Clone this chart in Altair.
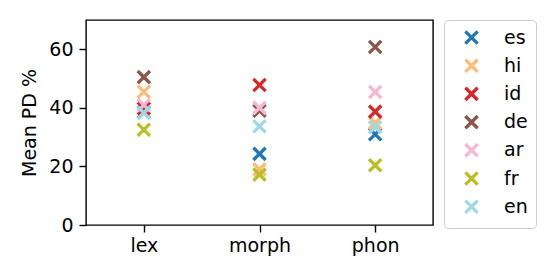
import altair as alt
import pandas as pd

languages = ["es", "hi", "id", "de", "ar", "fr", "en"]
colors = ["#1f77b4", "#ffbb78", "#d62728", "#8c564b", "#f7b6d2", "#bcbd22", "#9edae5"]
categories = ["lex", "morph", "phon"]
lex = [38.5, 45.5, 39.8, 50.5, 41.0, 32.5, 38.3]
morph = [24.3, 19.0, 47.8, 39.0, 40.0, 17.2, 33.7]
phon = [31.0, 34.8, 38.7, 60.8, 45.4, 20.4, 33.4]

rows = []
for i, lang in enumerate(languages):
    for cat, vals in zip(categories, [lex, morph, phon]):
        rows.append({"lang": lang, "cat": cat, "val": vals[i], "order": i})
df = pd.DataFrame(rows)

XPATH = "M-1,-1L1,1M1,-1L-1,1"
FONT = "DejaVu Sans"

chart = alt.Chart(df).mark_point(
    shape=XPATH, filled=False, size=150, strokeWidth=3.3, opacity=1
).encode(
    x=alt.X("cat:N", sort=categories, scale=alt.Scale(type="point", padding=0.5),
            axis=alt.Axis(title=None, labelAngle=0, labelPadding=4)),
    y=alt.Y("val:Q", scale=alt.Scale(domain=[0, 70], nice=False),
            axis=alt.Axis(title="Mean PD %", values=[0, 20, 40, 60], titlePadding=9, labelPadding=6)),
    color=alt.Color("lang:N", sort=languages,
                    scale=alt.Scale(domain=languages, range=colors),
                    legend=alt.Legend(title=None, orient="none", legendX=358, legendY=0,
                                      strokeColor="#cccccc", cornerRadius=4, padding=8,
                                      fillColor="white", labelFontSize=19, labelFont=FONT,
                                      symbolType=XPATH, symbolSize=150, symbolStrokeWidth=3.3,
                                      rowPadding=1.2, labelOffset=23, symbolOffset=10)),
    order=alt.Order("order:Q"),
).properties(
    width=347, height=205,
    autosize=alt.AutoSizeParams(type="none"),
    padding={"left": 78, "top": 12, "right": 110, "bottom": 47},
).configure_view(
    stroke="black", strokeWidth=1.4
).configure_axis(
    domain=False, grid=False, tickColor="black", tickWidth=1.4, tickSize=7,
    labelFont=FONT, labelFontSize=19, labelColor="black",
    titleFont=FONT, titleFontSize=19, titleFontWeight="normal", titleColor="black"
)

chart.save("out.html", embed_options={"renderer": "svg", "actions": False})
